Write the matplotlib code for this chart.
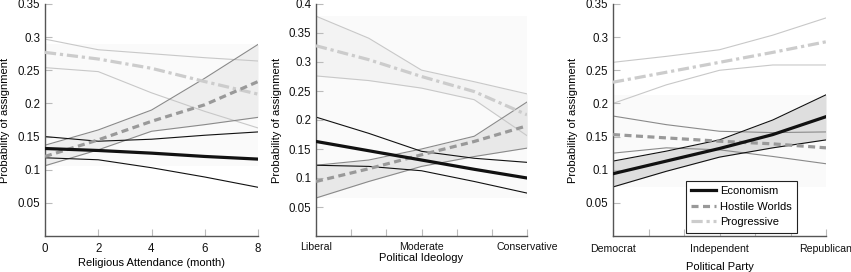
import matplotlib
matplotlib.use("Agg")
import matplotlib.pyplot as plt
import numpy as np
from matplotlib.ticker import FixedLocator

plt.rcParams['font.family'] = ['Liberation Sans', 'DejaVu Sans']

# ---------- data ----------
x_rel = [0, 2, 4, 6, 8]
rel_econ = [0.132, 0.129, 0.125, 0.120, 0.116]
rel_econ_hi = [0.150, 0.143, 0.146, 0.152, 0.157]
rel_econ_lo = [0.118, 0.115, 0.103, 0.089, 0.0735]
rel_host = [0.120, 0.145, 0.173, 0.198, 0.233]
rel_host_hi = [0.137, 0.160, 0.190, 0.238, 0.289]
rel_host_lo = [0.106, 0.130, 0.158, 0.168, 0.179]
rel_prog = [0.277, 0.267, 0.253, 0.233, 0.214]
rel_prog_hi = [0.297, 0.281, 0.275, 0.269, 0.264]
rel_prog_lo = [0.254, 0.248, 0.216, 0.188, 0.163]

x_cat = [0, 0.5, 1, 1.5, 2]
ideo_labels = ['Liberal', 'Moderate', 'Conservative']
ideo_econ = [0.163, 0.147, 0.131, 0.115, 0.100]
ideo_econ_hi = [0.205, 0.177, 0.146, 0.134, 0.127]
ideo_econ_lo = [0.122, 0.120, 0.1125, 0.094, 0.074]
ideo_host = [0.094, 0.116, 0.140, 0.163, 0.190]
ideo_host_hi = [0.122, 0.131, 0.150, 0.172, 0.231]
ideo_host_lo = [0.0655, 0.094, 0.120, 0.137, 0.1515]
ideo_prog = [0.328, 0.304, 0.275, 0.249, 0.209]
ideo_prog_hi = [0.379, 0.341, 0.286, 0.266, 0.245]
ideo_prog_lo = [0.276, 0.268, 0.255, 0.235, 0.173]

party_labels = ['Democrat', 'Independent', 'Republican']
party_econ = [0.094, 0.113, 0.132, 0.153, 0.180]
party_econ_hi = [0.113, 0.128, 0.145, 0.175, 0.213]
party_econ_lo = [0.074, 0.0976, 0.119, 0.133, 0.145]
party_host = [0.153, 0.148, 0.143, 0.139, 0.133]
party_host_hi = [0.181, 0.168, 0.158, 0.156, 0.157]
party_host_lo = [0.125, 0.133, 0.130, 0.120, 0.109]
party_prog = [0.232, 0.247, 0.262, 0.277, 0.293]
party_prog_hi = [0.262, 0.271, 0.281, 0.303, 0.329]
party_prog_lo = [0.200, 0.228, 0.250, 0.258, 0.258]

# ---------- styles ----------
ECON = dict(color='#111111', lw=2.3, ls='-')
HOST = dict(color='#999999', lw=2.3, ls=(0, (2.2, 1.4)))
PROG = dict(color='#cccccc', lw=2.3, ls=(0, (3.5, 1.2, 1, 1.2)))
CI_COL = {'econ': '#111111', 'host': '#8a8a8a', 'prog': '#c8c8c8'}
FS = 8

W, H = 851, 272
fig = plt.figure(figsize=(W / 100, H / 100), dpi=100)

def make_ax(left, right, top=4, bottom=236):
    return fig.add_axes([left / W, (H - bottom) / H, (right - left) / W, (bottom - top) / H])

def style_ax(ax, ymax, xlabel, ylab_x, xlab_y, xpad=6, xls=7.6):
    for s in ['top', 'right']:
        ax.spines[s].set_visible(False)
    for s in ['left', 'bottom']:
        ax.spines[s].set_color('#555555')
        ax.spines[s].set_linewidth(1.0)
    ax.set_ylim(0, ymax)
    ticks = np.arange(0.05, ymax + 1e-9, 0.05)
    ax.set_yticks(ticks)
    ax.set_yticklabels(['%g' % round(t, 2) for t in ticks])
    ax.tick_params(axis='both', which='both', direction='in', length=5,
                   color='#bbbbbb', width=0.8, labelcolor='#111111')
    ax.tick_params(axis='y', labelsize=8.3)
    ax.tick_params(axis='x', pad=xpad, labelsize=xls)
    ax.set_ylabel('Probability of assignment', fontsize=FS)
    ax.yaxis.set_label_coords(ylab_x, 0.5)
    ax.set_xlabel(xlabel, fontsize=FS)
    ax.xaxis.set_label_coords(0.5, xlab_y)

def band(ax, x, lo, hi, fc):
    ax.fill_between(x, min(lo), max(hi), color='#fafafa', lw=0, zorder=0)
    ax.fill_between(x, lo, hi, color=fc, lw=0, zorder=0.5)

def draw(ax, x, econ, ehi, elo, host, hhi, hlo, prog, phi, plo):
    for lo, hi, key in [(plo, phi, 'prog'), (hlo, hhi, 'host'), (elo, ehi, 'econ')]:
        ax.plot(x, lo, color=CI_COL[key], lw=0.8, zorder=2)
        ax.plot(x, hi, color=CI_COL[key], lw=0.8, zorder=2)
    ax.plot(x, prog, label='Progressive', zorder=3, **PROG)
    ax.plot(x, host, label='Hostile Worlds', zorder=3, **HOST)
    ax.plot(x, econ, label='Economism', zorder=4, **ECON)

# Panel 1
ax1 = make_ax(45, 258)
band(ax1, x_rel, rel_host_lo, rel_host_hi, '#eeeeee')
draw(ax1, x_rel, rel_econ, rel_econ_hi, rel_econ_lo, rel_host, rel_host_hi, rel_host_lo,
     rel_prog, rel_prog_hi, rel_prog_lo)
style_ax(ax1, 0.35, 'Religious Attendance (month)', -0.165, -0.095, xpad=5, xls=8.3)
ax1.set_xlim(0, 8)
ax1.set_xticks([0, 2, 4, 6, 8])

# Panel 2
ax2 = make_ax(316, 527)
band(ax2, x_cat, ideo_prog_lo, ideo_prog_hi, '#f3f3f3')
band(ax2, x_cat, ideo_host_lo, ideo_host_hi, '#e8e8e8')
draw(ax2, x_cat, ideo_econ, ideo_econ_hi, ideo_econ_lo, ideo_host, ideo_host_hi, ideo_host_lo,
     ideo_prog, ideo_prog_hi, ideo_prog_lo)
style_ax(ax2, 0.4, 'Political Ideology', -0.163, -0.072, xpad=4.5)
ax2.set_xlim(0, 2)
ax2.set_xticks([0, 1, 2])
ax2.set_xticklabels(ideo_labels)
ax2.xaxis.set_minor_locator(FixedLocator([1/3, 2/3, 4/3, 5/3]))

# Panel 3
ax3 = make_ax(613, 826)
band(ax3, x_cat, party_econ_lo, party_econ_hi, '#dedede')
draw(ax3, x_cat, party_econ, party_econ_hi, party_econ_lo, party_host, party_host_hi, party_host_lo,
     party_prog, party_prog_hi, party_prog_lo)
style_ax(ax3, 0.35, 'Political Party', -0.165, -0.11)
ax3.set_xlim(0, 2)
ax3.set_xticks([0, 1, 2])
ax3.set_xticklabels(party_labels)
ax3.xaxis.set_minor_locator(FixedLocator([1/3, 2/3, 4/3, 5/3]))

h, l = ax3.get_legend_handles_labels()
order = [2, 1, 0]
leg = ax3.legend([h[i] for i in order], [l[i] for i in order], loc='lower right',
                 bbox_to_anchor=(0.864, 0.014), fontsize=FS, frameon=True, fancybox=False,
                 edgecolor='#222222', framealpha=1, borderpad=0.5, labelspacing=0.5,
                 handlelength=2.2, handletextpad=0.35, borderaxespad=0)
leg.get_frame().set_linewidth(0.8)

fig.savefig('out.png', dpi=100, facecolor='white')
